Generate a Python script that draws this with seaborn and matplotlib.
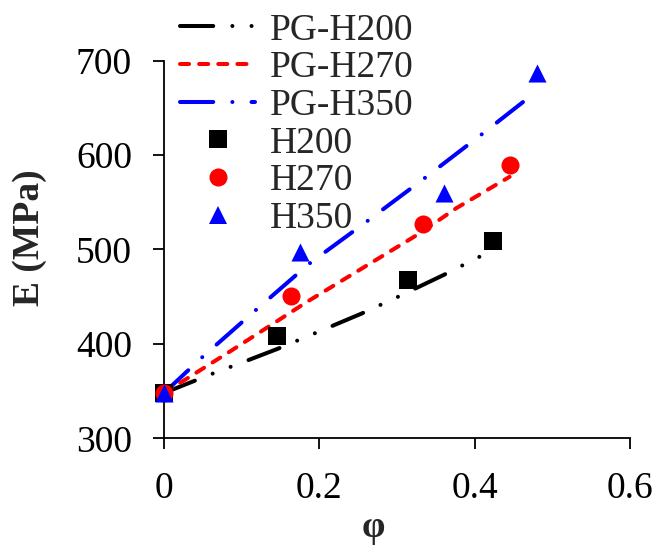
import matplotlib
matplotlib.use("Agg")
import matplotlib.pyplot as plt
import seaborn as sns
import pandas as pd
from matplotlib.lines import Line2D

# ---- data ----
# fitted (PG) curves
pg200_phi = [0, 0.061, 0.106, 0.147, 0.192, 0.254, 0.299, 0.360, 0.403, 0.423]
pg200_E = [348, 368, 382, 395, 410.5, 432, 449, 473, 491, 499]
pg270_phi = [0, 0.085, 0.185, 0.329, 0.376, 0.445]
pg270_E = [348, 392, 445, 517, 543.6, 577]
pg350_phi = [0, 0.048, 0.117, 0.187, 0.260, 0.333, 0.406, 0.479]
pg350_E = [348, 385, 435, 485, 529, 574, 620, 667]
# measured points
h200_phi = [0, 0.146, 0.314, 0.424]
h200_E = [348, 408, 468, 509]
h270_phi = [0, 0.164, 0.334, 0.446]
h270_E = [348, 451, 527, 589]
h350_phi = [0, 0.175, 0.360, 0.480]
h350_E = [348, 497, 560, 687]

line_labels = ["PG-H200", "PG-H270", "PG-H350"]
point_labels = ["H200", "H270", "H350"]
x_ticks = [0, 0.2, 0.4, 0.6]
x_ticklabels = ["0", "0.2", "0.4", "0.6"]
y_ticks = [300, 400, 500, 600, 700]

sns.set_style("ticks")
plt.rcParams['font.family'] = ['Liberation Serif', 'DejaVu Serif']

fig = plt.figure(figsize=(6.58, 5.47), dpi=100)
ax = fig.add_axes([164/658, 1-438.3/547, (630-164)/658, (438.3-60.7)/547])

lw = 2.9
styles = [
    ("black", (0, (8.25, 4.75, 0.01, 4.75, 0.01, 4.75))),
    ("#ff0000", (0, (2.25, 2.5))),
    ("#0000ff", (0, (8.25, 4.75, 0.01, 4.75))),
]
lines_data = [(pg200_phi, pg200_E), (pg270_phi, pg270_E), (pg350_phi, pg350_E)]
handles = []
for (px, py), (col, ls), lab in zip(lines_data, styles, line_labels):
    df = pd.DataFrame({"phi": px, "E": py})
    sns.lineplot(data=df, x="phi", y="E", ax=ax, color=col, linewidth=lw,
                 linestyle=ls, dash_capstyle="round", sort=False, zorder=2)
    handles.append(Line2D([], [], color=col, linewidth=lw, linestyle=ls,
                          dash_capstyle="round", label=lab))

pts = [(h200_phi, h200_E, "black", "s"), (h270_phi, h270_E, "#ff0000", "o"),
       (h350_phi, h350_E, "#0000ff", "^")]
ms = 13
for (px, py, col, mk), lab in zip(pts, point_labels):
    df = pd.DataFrame({"phi": px, "E": py})
    sns.scatterplot(data=df, x="phi", y="E", ax=ax, color=col, marker=mk,
                    s=ms**2, linewidth=0, clip_on=False, zorder=3)
    handles.append(Line2D([], [], color=col, marker=mk, markersize=ms,
                          linestyle="none", markeredgewidth=0, label=lab))

ax.set_xlim(0, 0.6)
ax.set_ylim(300, 700)
ax.set_xticks(x_ticks)
ax.set_xticklabels(x_ticklabels)
ax.set_yticks(y_ticks)
ax.tick_params(axis="both", labelsize=27, length=8, width=1.3, direction="out",
               color="black", labelcolor="black")
ax.tick_params(axis="y", pad=15)
ax.tick_params(axis="x", pad=16)
for s in ["top", "right"]:
    ax.spines[s].set_visible(False)
for s in ["left", "bottom"]:
    ax.spines[s].set_linewidth(1.3)
    ax.spines[s].set_color("black")

ax.set_ylabel("E (MPa)", fontsize=27, fontweight="bold")
ax.set_xlabel("φ", fontsize=27, fontweight="bold")
ax.yaxis.set_label_coords(-0.25, 0.53)
ax.xaxis.set_label_coords(0.45, -0.19)

leg = ax.legend(handles=handles, loc="upper left",
                bbox_to_anchor=(180/658, 1-13/547), bbox_transform=fig.transFigure,
                frameon=False, fontsize=27, borderpad=0, borderaxespad=0,
                handlelength=2.0, handletextpad=0.4, labelspacing=0.085)

fig.savefig("out.png", dpi=100)
